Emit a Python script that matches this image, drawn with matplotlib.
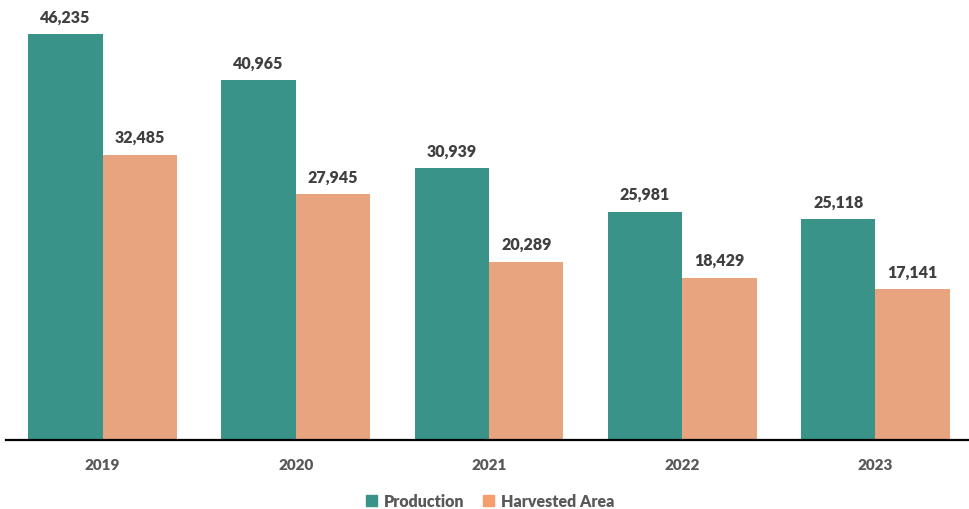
import matplotlib
matplotlib.use("Agg")
import matplotlib.pyplot as plt
from matplotlib.patches import Patch
import numpy as np

years = ["2019", "2020", "2021", "2022", "2023"]
production = [46235, 40965, 30939, 25981, 25118]
harvested_area = [32485, 27945, 20289, 18429, 17141]

teal = "#3a9388"
salmon = "#e8a47e"
label_color = "#404040"
tick_color = "#595959"

plt.rcParams["font.family"] = ["Lato", "DejaVu Sans"]

fig = plt.figure(figsize=(9.69, 5.10), dpi=100)
ax = fig.add_axes([6 / 969, (510 - 440.5) / 510, 966 / 969, 440.5 / 510])

x = np.arange(len(years))
w = 0.385
b1 = ax.bar(x - w / 2, production, w, color=teal)
b2 = ax.bar(x + w / 2, harvested_area, w, color=salmon)

for bars in (b1, b2):
    for rect in bars:
        h = rect.get_height()
        ax.annotate(f"{h:,.0f}", (rect.get_x() + rect.get_width() / 2, h),
                    xytext=(0, 7), textcoords="offset points",
                    ha="center", va="bottom", fontsize=11.5, fontweight="heavy",
                    color=label_color)

ax.set_xlim(-0.5, len(years) - 0.5)
ax.set_ylim(0, 50226)
ax.set_xticks(x)
ax.set_xticklabels(years, fontsize=11, fontweight="heavy", color=tick_color)
ax.tick_params(axis="x", length=0, pad=13)
ax.set_yticks([])
for side in ("top", "right", "left"):
    ax.spines[side].set_visible(False)
ax.spines["bottom"].set_linewidth(1.6)
ax.spines["bottom"].set_color("black")

handles = [Patch(color=teal, label="Production"),
           Patch(color="#f59d6c", label="Harvested Area")]
fig.legend(handles=handles, loc="center", bbox_to_anchor=(490 / 969, 1 - 502 / 510),
           ncol=2, frameon=False, handlelength=0.7, handleheight=0.7,
           handletextpad=0.4, columnspacing=1.2,
           prop={"size": 11.5, "weight": "heavy"}, labelcolor=tick_color)

fig.savefig("out.png", dpi=100)
